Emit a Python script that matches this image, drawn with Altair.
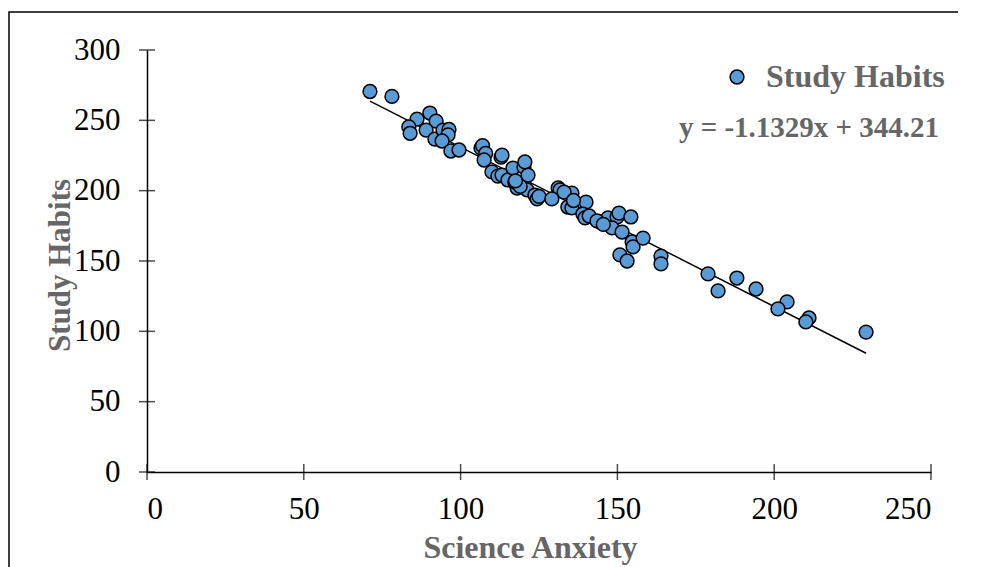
import altair as alt
import pandas as pd

# ---- data ----
anxiety = [71.1, 78.1, 86.1, 90.2, 92.2, 83.5, 83.9, 89.0, 91.8, 94.4, 96.3, 96.0, 94.1, 96.9, 99.5,
           106.5, 107.0, 108.0, 107.5, 110.0, 111.9, 113.2, 115.1, 112.9, 113.2, 116.7, 120.2, 121.5,
           118.0, 121.2, 123.7, 124.4, 120.5, 117.3, 119.0, 117.5, 125.0,
           131.1, 131.7, 135.5, 129.1, 134.2, 135.5, 140.0, 139.0, 139.7, 144.5, 146.0, 147.0, 149.9,
           150.5, 154.3, 148.3, 151.5, 154.7, 155.0, 158.2, 150.8, 153.1, 133.0, 136.0, 141.0, 143.5, 145.5,
           163.9, 163.9, 178.9, 182.1, 188.1, 194.2, 204.1, 201.2, 211.1, 210.1, 229.3]
habits = [270.5, 267.0, 250.9, 255.2, 249.5, 245.3, 240.8, 243.1, 236.7, 243.1, 243.5, 239.6, 235.3, 228.2, 228.9,
          230.3, 232.0, 226.5, 221.8, 213.3, 210.4, 211.1, 207.6, 223.9, 225.3, 216.1, 216.8, 211.1,
          201.9, 200.5, 196.9, 194.1, 220.4, 206.1, 203.0, 207.0, 196.0,
          201.9, 200.5, 198.3, 194.1, 188.4, 187.7, 191.9, 183.4, 180.6, 177.7, 177.0, 180.6, 181.3,
          184.1, 181.3, 173.5, 170.6, 163.5, 160.0, 166.3, 154.3, 150.0, 199.0, 193.0, 182.0, 178.5, 176.0,
          153.5, 147.9, 140.8, 128.7, 137.9, 130.1, 120.9, 115.9, 109.5, 106.7, 99.5]
x_ticks = [0, 50, 100, 150, 200, 250]
y_ticks = [0, 50, 100, 150, 200, 250, 300]
slope = -1.1329
intercept = 344.21
series_name = "Study Habits"
equation = "y = -1.1329x + 344.21"

df = pd.DataFrame({"Science Anxiety": anxiety, "Study Habits": habits, "series": series_name})
xmin, xmax = min(anxiety), max(anxiety)
trend = pd.DataFrame({"Science Anxiety": [xmin, xmax],
                      "Study Habits": [slope * xmin + intercept, slope * xmax + intercept]})
xt = pd.DataFrame({"Science Anxiety": x_ticks})
yt = pd.DataFrame({"Study Habits": y_ticks})

FONT = "Liberation Serif"
GRAY = "#666666"

xscale = alt.Scale(domain=[0, 250], nice=False)
yscale = alt.Scale(domain=[0, 300], nice=False)

common = dict(labelFont=FONT, labelFontSize=31, labelColor="black",
              titleFont=FONT, titleFontWeight="bold", titleColor=GRAY,
              domainColor="black", domainWidth=1.5, ticks=False, tickSize=0, grid=False,
              titleBaseline="middle", titleAlign="center")
xaxis = alt.Axis(values=x_ticks, title="Science Anxiety", labelPadding=22, titleFontSize=32,
                 titleX=383, titleY=75, **common)
yaxis = alt.Axis(values=y_ticks, title="Study Habits", labelPadding=27, titleFontSize=31,
                 titleX=-87, titleY=215, titleAngle=270, **common)

X = alt.X("Science Anxiety:Q", scale=xscale, axis=xaxis)
Y = alt.Y("Study Habits:Q", scale=yscale, axis=yaxis)

border = alt.Chart(pd.DataFrame({"a": [0]})).mark_rect(
    fillOpacity=0, stroke="black", strokeWidth=1.5).encode(
    x=alt.value(-138), x2=alt.value(850), y=alt.value(-38), y2=alt.value(560))

line = alt.Chart(trend).mark_line(color="black", strokeWidth=1.5).encode(x=X, y=Y)

points = alt.Chart(df).mark_circle(size=190, stroke="black", strokeWidth=1.5, opacity=1).encode(
    x=X, y=Y,
    color=alt.Color("series:N", scale=alt.Scale(range=["#5B9BD5"]),
                    legend=alt.Legend(title=None, orient="none", legendX=574, legendY=11,
                                      labelFont=FONT, labelFontSize=32, labelFontWeight="bold",
                                      labelColor=GRAY, labelLimit=500, symbolSize=190,
                                      symbolType="circle",
                                      symbolStrokeColor="black", symbolStrokeWidth=1.5,
                                      labelOffset=13, padding=0)))

yticks = alt.Chart(yt).mark_tick(orient="horizontal", size=16, thickness=1.5, color="black").encode(
    y=Y, x=alt.value(0))
xticks = alt.Chart(xt).mark_tick(orient="vertical", size=16, thickness=1.5, color="black").encode(
    x=X, y=alt.value(422))

eq = alt.Chart(pd.DataFrame({"t": [equation]})).mark_text(
    font=FONT, fontSize=29, fontWeight="bold", color=GRAY, align="center", baseline="middle").encode(
    text="t:N", x=alt.value(662), y=alt.value(78))

chart = alt.layer(border, line, points, yticks, xticks, eq).properties(
    width=784, height=422,
    autosize=alt.AutoSizeParams(type="none"),
    padding={"left": 139, "top": 42, "right": 27, "bottom": 100},
).configure_view(stroke=None)

chart.save("out.html", embed_options={"renderer": "svg", "actions": False})
